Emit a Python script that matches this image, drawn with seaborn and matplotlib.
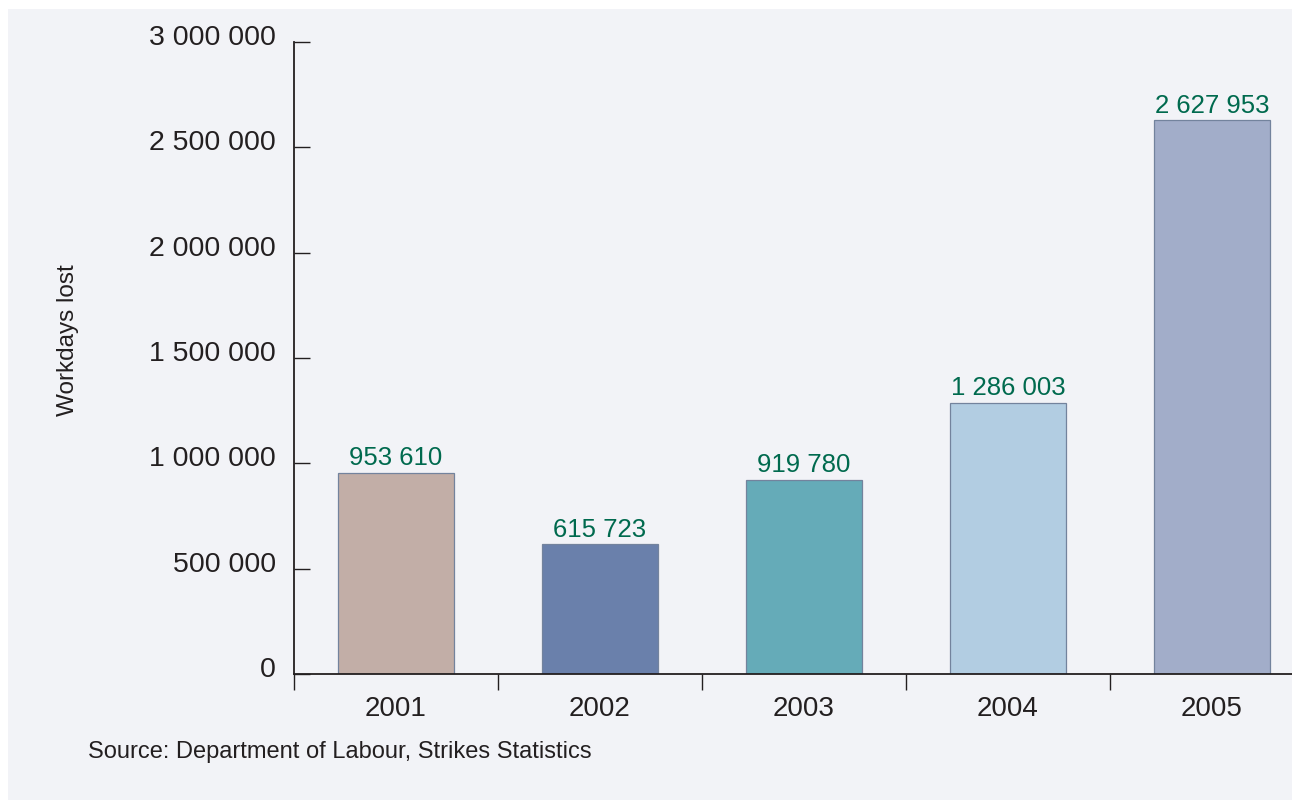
import matplotlib
matplotlib.use("Agg")
import matplotlib.pyplot as plt
import matplotlib.patches as mpatches
import matplotlib.transforms as mtransforms
import pandas as pd
import seaborn as sns

# ---- data ----
years = ["2001", "2002", "2003", "2004", "2005"]
workdays_lost = [953610, 615723, 919780, 1286003, 2627953]
bar_colors = ["#c2aea7", "#6a80ab", "#65abb8", "#b2cde2", "#a2adc9"]
y_ticks = [0, 500000, 1000000, 1500000, 2000000, 2500000, 3000000]

PANEL = "#f2f3f7"
TEXT = "#231f20"
LABEL_GREEN = "#006a4e"

sns.set_theme(style="white")
plt.rcParams["font.family"] = ["Liberation Sans", "DejaVu Sans"]

df = pd.DataFrame({"year": years, "lost": workdays_lost})

fig = plt.figure(figsize=(12.92, 8.0), dpi=100)
fig.patch.set_facecolor("white")
# light panel behind the chart
fig.patches.append(mpatches.Rectangle((8 / 1292, 0), 1.0, 1 - 9 / 800,
                                      transform=fig.transFigure,
                                      facecolor=PANEL, edgecolor="none", zorder=-10))

ax = fig.add_axes([294 / 1292, 1 - 674 / 800, (1314 - 294) / 1292, (674 - 42) / 800])
ax.set_facecolor("none")

sns.barplot(data=df, x="year", y="lost", hue="year", palette=bar_colors,
            order=years, hue_order=years, width=0.57, legend=False,
            saturation=1, edgecolor="#73839d", linewidth=0.9, ax=ax)

for cont in ax.containers:
    vals = [int(b.get_height()) for b in cont]
    ax.bar_label(cont, labels=[f"{v:,}".replace(",", " ") for v in vals],
                 padding=2, fontsize=18.5, color=LABEL_GREEN)

ax.set_xlim(-0.5, len(years) - 0.5)
ax.set_ylim(0, 3000000)
ax.set_yticks(y_ticks)
ax.set_yticklabels([f"{v:,}".replace(",", " ") for v in y_ticks])
ax.set_xlabel("")
ax.set_ylabel("")

for side in ["top", "right"]:
    ax.spines[side].set_visible(False)
for side in ["left", "bottom"]:
    ax.spines[side].set_color(TEXT)
    ax.spines[side].set_linewidth(1.3)

ax.tick_params(axis="y", direction="in", length=11.5, width=1.0, color=TEXT,
               labelsize=20.5, labelcolor=TEXT, pad=13, left=True)
ax.tick_params(axis="x", which="major", length=0, labelsize=20,
               labelcolor=TEXT, pad=16)
ax.set_xticks([i + 0.5 for i in range(len(years) - 1)] + [-0.5], minor=True)
ax.tick_params(axis="x", which="minor", direction="out", length=11.5,
               width=1.0, color=TEXT, bottom=True)

# y tick labels sit slightly above their ticks
lift = mtransforms.ScaledTranslation(0, 7 / 100, fig.dpi_scale_trans)
for lab in ax.get_yticklabels():
    lab.set_transform(lab.get_transform() + lift)

fig.text(68 / 1292, 1 - 340 / 800, "Workdays lost", rotation=90,
         ha="center", va="center", fontsize=17.5, color=TEXT)
fig.text(88 / 1292, 1 - 752 / 800, "Source: Department of Labour, Strikes Statistics",
         ha="left", va="center", fontsize=17, color=TEXT)

fig.savefig("out.png", dpi=100)
